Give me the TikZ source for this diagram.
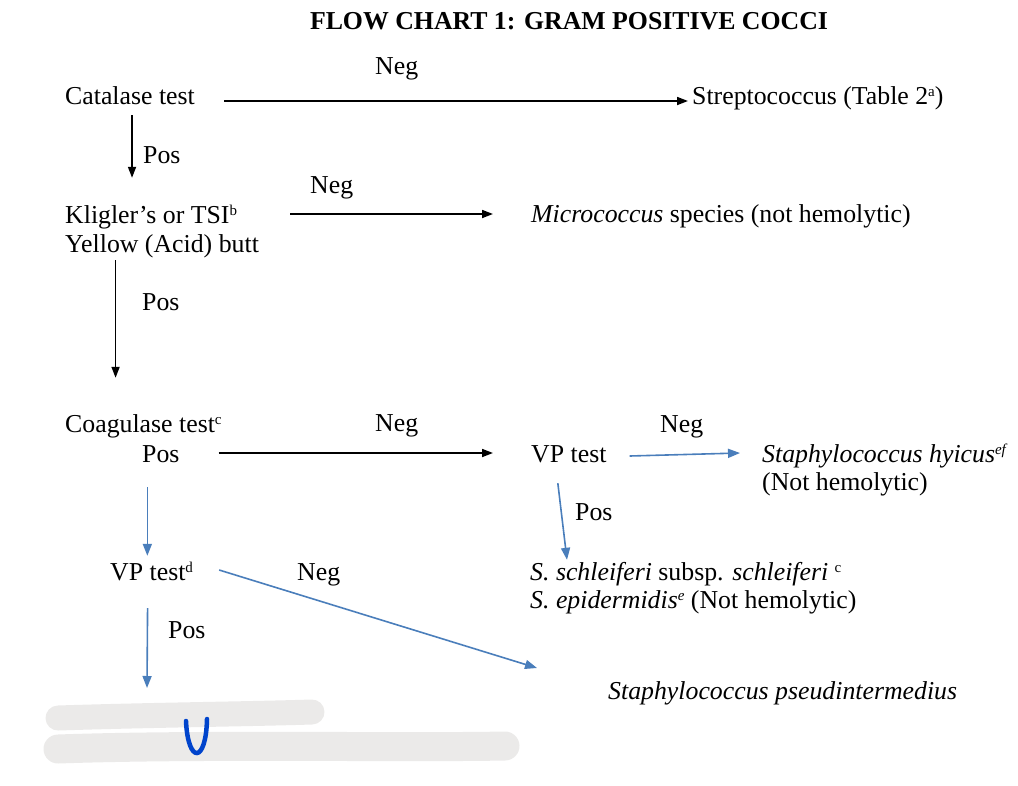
\documentclass[tikz,border=0pt]{standalone}
\usepackage{fontspec}
\setmainfont{Liberation Serif}
\usetikzlibrary{arrows.meta}
\definecolor{bluearr}{RGB}{74,126,187}
\definecolor{scribgray}{RGB}{235,234,233}
\definecolor{penblue}{RGB}{0,68,204}
\newcommand{\fsz}{\fontsize{25.8}{29}\selectfont}
\newcommand{\sups}[1]{\raisebox{0.6ex}{\fontsize{15}{15}\selectfont #1}}
\tikzset{
  txt/.style={anchor=base west, inner sep=0pt, font=\fsz, text height=17pt, text depth=5pt},
  arr/.style={-{Triangle[length=11pt,width=8pt]}, line width=1.7pt, black},
  barr/.style={-{Triangle[length=12pt,width=9pt]}, line width=1.6pt, bluearr},
  scrib/.style={scribgray, line cap=round, line join=round},
}
\begin{document}
\begin{tikzpicture}[x=1pt,y=-1pt]
\useasboundingbox (0,0) rectangle (1018,785);
% scribbles
\draw[scrib, line width=25pt] (58,718) .. controls (150,715) and (250,714) .. (312,712);
\draw[scrib, line width=29pt] (58,749) .. controls (200,744) and (400,748) .. (505,746);
\draw[penblue, line width=4.5pt, line cap=round] (186,721) .. controls (188,764) and (206,764) .. (207,719);
% title
\node[txt, anchor=base] (title) at (569,29) {\bfseries FLOW CHART 1: GRAM POSITIVE COCCI};
% nodes
\node[txt] (neg1) at (375,74) {Neg};
\node[txt] (cat) at (65,104) {Catalase test};
\node[txt] (strep) at (692,104) {Streptococcus (Table 2\sups{a})};
\node[txt] (pos1) at (143,163) {Pos};
\node[txt] (neg2) at (310,193) {Neg};
\node[txt] (kli) at (65,223) {Kligler's or TSI\sups{b}};
\node[txt] (yel) at (65,252) {Yellow (Acid) butt};
\node[txt] (micro) at (531,222) {\textit{Micrococcus} species (not hemolytic)};
\node[txt] (pos2) at (142,310) {Pos};
\node[txt] (coag) at (65,432) {Coagulase test\sups{c}};
\node[txt] (coagpos) at (142,462) {Pos};
\node[txt] (neg3) at (375,431) {Neg};
\node[txt] (vp1) at (531,462) {VP test};
\node[txt] (neg4) at (660,432) {Neg};
\node[txt] (hyi) at (762,462) {\textit{Staphylococcus hyicus}\sups{\itshape ef}};
\node[txt] (hyi2) at (762,490) {(Not hemolytic)};
\node[txt] (pos3) at (575,520) {Pos};
\node[txt] (sch) at (530,580) {\textit{S. schleiferi} subsp. \textit{schleiferi} \sups{c}};
\node[txt] (epi) at (530,608) {\textit{S. epidermidis}\sups{\itshape e} (Not hemolytic)};
\node[txt] (vp2) at (110,580) {VP test\sups{d}};
\node[txt] (neg5) at (297,580) {Neg};
\node[txt] (pos4) at (168,638) {Pos};
\node[txt] (pseud) at (608,699) {\textit{Staphylococcus pseudintermedius}};
\coordinate (hidden) at (147,688);
% connectors
\draw[arr] ([xshift=29pt,yshift=-3pt]cat.east) -- ([xshift=-4pt,yshift=-3pt]strep.west);
\draw[arr] ([xshift=2pt,yshift=-6pt]cat.south) -- ([xshift=2pt,yshift=28pt]cat.south |- kli.north);
\draw[arr] ([xshift=53pt,yshift=3pt]kli.east) -- ([xshift=-38pt,yshift=2pt]micro.west);
\draw[arr] ([xshift=-46.5pt,yshift=-3pt]yel.south) -- ([xshift=-46.5pt,yshift=37pt]yel.south |- coag.north);
\draw[arr] ([xshift=39pt,yshift=3pt]coagpos.east) -- ([xshift=-38pt,yshift=3pt]vp1.west);
\draw[barr] ([xshift=23pt]vp1.east) -- ([xshift=-22pt,yshift=3pt]hyi.west);
\draw[barr] ([xshift=-11pt,yshift=-16pt]vp1.south) -- ([xshift=37pt,yshift=3pt]sch.north west);
\draw[barr] ([xshift=-13.5pt,yshift=-20pt]coagpos.south) -- ([xshift=-13.5pt,yshift=7pt]coagpos.south |- vp2.north);
\draw[barr] ([xshift=26pt,yshift=4pt]vp2.east) -- ([xshift=-71pt,yshift=25pt]pseud.west);
\draw[barr] ([xshift=-4pt,yshift=-23pt]vp2.south) -- (hidden);
\end{tikzpicture}
\end{document}
